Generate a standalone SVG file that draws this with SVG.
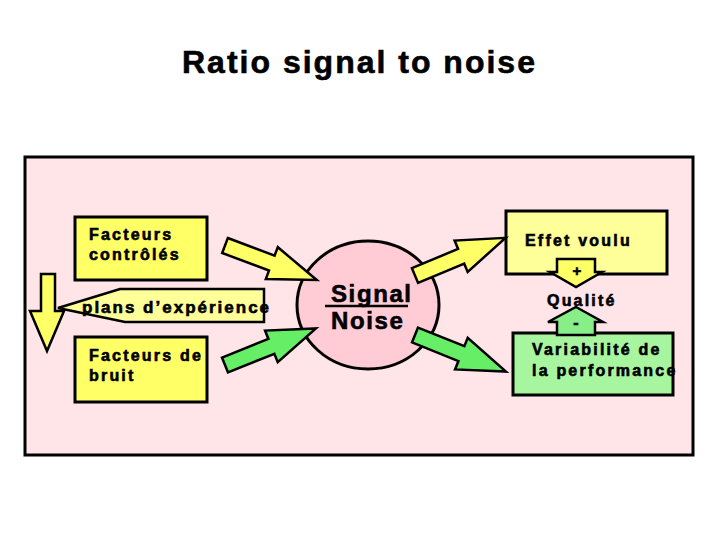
<svg xmlns="http://www.w3.org/2000/svg" width="720" height="540" viewBox="0 0 720 540">
<defs>
<style>
.t{font-family:"Liberation Sans",Arial,sans-serif;font-weight:bold;fill:#000;stroke:#000;stroke-width:0.6}
.lbl{font-size:16px;letter-spacing:2.2px}
.box{stroke:#000;stroke-width:3}
.arr{stroke:#000;stroke-width:2.5;stroke-linejoin:miter}
.yl{fill:#FFFF66}
.yp{fill:#FFFF99}
.gr{fill:#66EE66}
.gp{fill:#A8F5A0}
</style>
<polygon id="blk" points="0,-8 50,-8 50,-17 98,0 50,17 50,8 0,8"/>
</defs>
<rect width="720" height="540" fill="#fff"/>
<text class="t" x="182" y="73" font-size="32" letter-spacing="2" stroke-width="0.8">Ratio signal to noise</text>
<rect id="frame" x="25" y="157" width="668" height="298" fill="#FFE4E8" stroke="#000" stroke-width="3"/>

<g id="node-controles">
<rect class="box yl" x="75" y="217" width="132" height="63"/>
<text class="t lbl" x="89" y="240">Facteurs</text>
<text class="t lbl" x="89" y="260">contrôlés</text>
</g>
<g id="node-bruit">
<rect class="box yl" x="75" y="337" width="132" height="65"/>
<text class="t lbl" x="89" y="361">Facteurs de</text>
<text class="t lbl" x="89" y="381">bruit</text>
</g>
<g id="node-plans">
<polygon class="arr yp" points="264,289 264,322 125,322 58,308 120,289"/>
<text class="t" x="82" y="313" font-size="17" letter-spacing="2">plans d’expérience</text>
</g>
<g id="node-effet">
<rect class="box yp" x="506" y="211" width="161" height="63"/>
<text class="t lbl" x="525" y="246">Effet voulu</text>
</g>
<g id="node-variabilite">
<rect class="box gp" x="513" y="333" width="160" height="62"/>
<text class="t lbl" x="532" y="355">Variabilité de</text>
<text class="t lbl" x="532" y="376">la performance</text>
</g>
<g id="node-qualite">
<text class="t lbl" x="547" y="306">Qualité</text>
</g>
<g id="node-signal">
<ellipse cx="368" cy="305" rx="71" ry="64" fill="#FFCCD5" stroke="#000" stroke-width="3"/>
</g>

<g id="connectors">
<polygon class="arr yl" points="41,274 55,274 55,311 64,311 47,351 30,311 41,311"/>
<use href="#blk" class="arr yl" transform="translate(225,245.5) rotate(20.6)"/>
<use href="#blk" class="arr gr" transform="translate(225,365) rotate(-21.9)"/>
<use href="#blk" class="arr yl" transform="translate(415,275.5) rotate(-22.6)"/>
<use href="#blk" class="arr gr" transform="translate(415,335) rotate(21.9)"/>
<polygon class="arr yl" points="557,259 595,259 595,272 602,272 576,287 550,272 557,272"/>
<text class="t" x="577" y="276" font-size="15" text-anchor="middle">+</text>
<polygon class="arr" fill="#88EE88" points="576,307 603,322 595,322 595,335 557,335 557,322 548,322"/>
<text class="t" x="576" y="328" font-size="16" text-anchor="middle">-</text>
</g>

<g id="node-signal-text">
<text class="t" x="331" y="302" font-size="24" letter-spacing="1.6">Signal</text>
<line x1="325" y1="306" x2="408" y2="306" stroke="#000" stroke-width="2.5"/>
<text class="t" x="331" y="329" font-size="24" letter-spacing="1.6">Noise</text>
</g>
</svg>
